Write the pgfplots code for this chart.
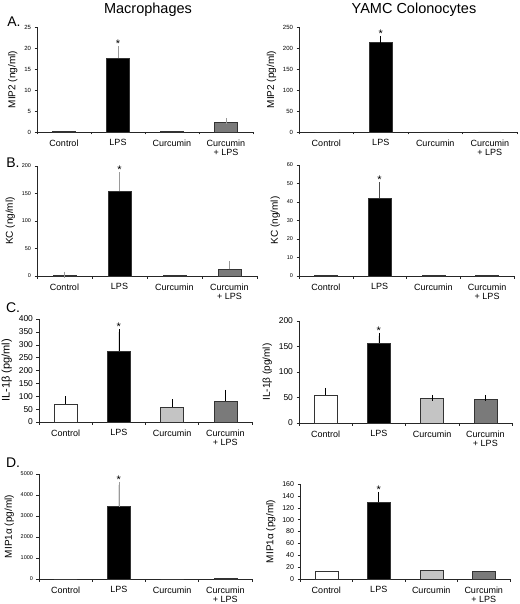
\documentclass[border=0pt]{standalone}
\usepackage{fontspec}
\setmainfont{Liberation Sans}
\usepackage{pgfplots}
\pgfplotsset{compat=1.18}
\definecolor{dgray}{HTML}{7A7A7A}
\definecolor{lgray}{HTML}{C4C4C4}
\definecolor{egray}{HTML}{9A9A9A}
\tikzset{sig/.style={anchor=south, inner sep=1.5pt, font=\fontsize{11}{11}\selectfont}}
\pgfplotsset{
 panel/.style={
  scale only axis,
  axis x line*=bottom, axis y line*=left,
  axis line style={black!85, line width=0.5pt},
  xmin=-0.5, xmax=3.5, ymin=0,
  xtick={0,1,2,3},
  xticklabels={Control,LPS,Curcumin,{Curcumin\\+ LPS}},
  xticklabel style={align=center, font=\fontsize{9}{9.5}\selectfont, yshift=-1.5pt},
  major x tick style={draw=none},
  minor xtick={-0.5,0.5,1.5,2.5,3.5},
  minor tick length=2.5pt,
  major tick length=2.5pt,
  tick align=outside,
  tick style={black!85, line width=0.5pt},
  yticklabel style={font=\fontsize{6}{7}\selectfont},
  ylabel style={font=\fontsize{10}{11}\selectfont},
  /pgf/number format/assume math mode=true,
  /pgf/number format/1000 sep={},
  scaled y ticks=false,
  clip=false,
 },
 bbar/.style={ybar, bar width=23pt, bar shift=0pt, draw=black!80, line width=0.4pt, fill=#1},
 errb/.style={error bars/y dir=plus, error bars/y explicit,
   error bars/error bar style={draw=#1, line width=0.6pt},
   error bars/error mark options={draw=#1, mark size=3pt, line width=0.6pt}},
}
\begin{document}
\begin{tikzpicture}
\useasboundingbox (0,0) rectangle (519pt,-604pt);
\node[font=\fontsize{14.5}{15}\selectfont] at (148pt,-10pt) {Macrophages};
\node[font=\fontsize{14.5}{15}\selectfont] at (414pt,-10pt) {YAMC Colonocytes};
\node[font=\fontsize{14}{15}\selectfont] at (14pt,-22pt) {A.};
\node[font=\fontsize{14}{15}\selectfont] at (13pt,-163pt) {B.};
\node[font=\fontsize{14}{15}\selectfont] at (13pt,-308pt) {C.};
\node[font=\fontsize{14}{15}\selectfont] at (13pt,-463pt) {D.};

% A left
\begin{axis}[panel, at={(37pt,-132pt)}, anchor=south west, width=216pt, height=105pt,
  ymax=25, ytick={0,5,...,25}, ylabel={MIP2 (ng/ml)}]
\addplot[bbar=white] coordinates {(0,0.2)};
\addplot[bbar=black, errb=egray] coordinates {(1,17.5) +- (0,2.2)};
\addplot[bbar=lgray] coordinates {(2,0.2)};
\addplot[bbar=dgray, errb=egray] coordinates {(3,2.4) +- (0,0.1)};
\node[sig] at (axis cs:1,19.7) {*};
\end{axis}

% A right
\begin{axis}[panel, at={(299pt,-132pt)}, anchor=south west, width=218pt, height=105pt,
  ymax=250, ytick={0,50,...,250}, ylabel={MIP2 (pg/ml)}]
\addplot[bbar=white] coordinates {(0,0)};
\addplot[bbar=black, errb=black] coordinates {(1,213) +- (0,9)};
\addplot[bbar=lgray] coordinates {(2,0)};
\addplot[bbar=dgray] coordinates {(3,0)};
\node[sig] at (axis cs:1,222) {*};
\end{axis}

% B left
\begin{axis}[panel, at={(37pt,-276pt)}, anchor=south west, width=220pt, height=110pt,
  ymax=200, ytick={0,50,...,200}, ylabel={KC (ng/ml)},
  yticklabel style={font=\fontsize{5.5}{6}\selectfont}]
\addplot[bbar=white, errb=egray] coordinates {(0,1.5) +- (0,1)};
\addplot[bbar=black, errb=egray] coordinates {(1,155) +- (0,28)};
\addplot[bbar=lgray] coordinates {(2,1)};
\addplot[bbar=dgray, errb=egray] coordinates {(3,12) +- (0,10)};
\node[sig] at (axis cs:1,183) {*};
\end{axis}

% B right
\begin{axis}[panel, at={(299pt,-276pt)}, anchor=south west, width=215pt, height=111pt,
  ymax=60, ytick={0,10,...,60}, ylabel={KC (ng/ml)},
  yticklabel style={font=\fontsize{5.5}{6}\selectfont}]
\addplot[bbar=white] coordinates {(0,0.3)};
\addplot[bbar=black, errb=black!70] coordinates {(1,42.3) +- (0,7)};
\addplot[bbar=lgray] coordinates {(2,0.3)};
\addplot[bbar=dgray] coordinates {(3,0.2)};
\node[sig] at (axis cs:1,49.3) {*};
\end{axis}

% C left
\begin{axis}[panel, at={(39pt,-422pt)}, anchor=south west, width=213pt, height=103pt,
  ymax=400, ytick={0,50,...,400}, ylabel={IL-1β (pg/ml)},
  yticklabel style={font=\fontsize{8.5}{9}\selectfont},
  ylabel style={font=\fontsize{11}{12}\selectfont}]
\addplot[bbar=white, errb=black] coordinates {(0,70) +- (0,18)};
\addplot[bbar=black, errb=black] coordinates {(1,275) +- (0,74)};
\addplot[bbar=lgray, errb=black] coordinates {(2,57) +- (0,20)};
\addplot[bbar=dgray, errb=black] coordinates {(3,80) +- (0,33)};
\node[sig] at (axis cs:1,349) {*};
\end{axis}

% C right
\begin{axis}[panel, at={(299pt,-423pt)}, anchor=south west, width=213pt, height=102pt,
  ymax=200, ytick={0,50,...,200}, ylabel={IL-1β (pg/ml)},
  yticklabel style={font=\fontsize{8.5}{9}\selectfont}]
\addplot[bbar=white, errb=black] coordinates {(0,55) +- (0,8)};
\addplot[bbar=black, errb=black] coordinates {(1,157) +- (0,14)};
\addplot[bbar=lgray, errb=black] coordinates {(2,48) +- (0,1.5)};
\addplot[bbar=dgray, errb=black] coordinates {(3,46.5) +- (0,3)};
\node[sig] at (axis cs:1,171) {*};
\end{axis}

% D left
\begin{axis}[panel, at={(39pt,-579pt)}, anchor=south west, width=213pt, height=105pt,
  ymax=5000, ytick={0,1000,...,5000}, ylabel={MIP1α (pg/ml)},
  yticklabel style={font=\fontsize{5.5}{6}\selectfont}]
\addplot[bbar=white] coordinates {(0,0)};
\addplot[bbar=black, errb=egray] coordinates {(1,3450) +- (0,1030)};
\addplot[bbar=lgray] coordinates {(2,0)};
\addplot[bbar=dgray] coordinates {(3,40)};
\node[sig] at (axis cs:1,4480) {*};
\end{axis}

% D right
\begin{axis}[panel, at={(300pt,-579pt)}, anchor=south west, width=210pt, height=95pt,
  ymax=160, ytick={0,20,...,160}, ylabel={MIP1α (pg/ml)},
  yticklabel style={font=\fontsize{7}{8}\selectfont}]
\addplot[bbar=white] coordinates {(0,13.5)};
\addplot[bbar=black, errb=black] coordinates {(1,129) +- (0,12.5)};
\addplot[bbar=lgray] coordinates {(2,14.5)};
\addplot[bbar=dgray] coordinates {(3,13.5)};
\node[sig] at (axis cs:1,141.5) {*};
\end{axis}
\end{tikzpicture}
\end{document}
